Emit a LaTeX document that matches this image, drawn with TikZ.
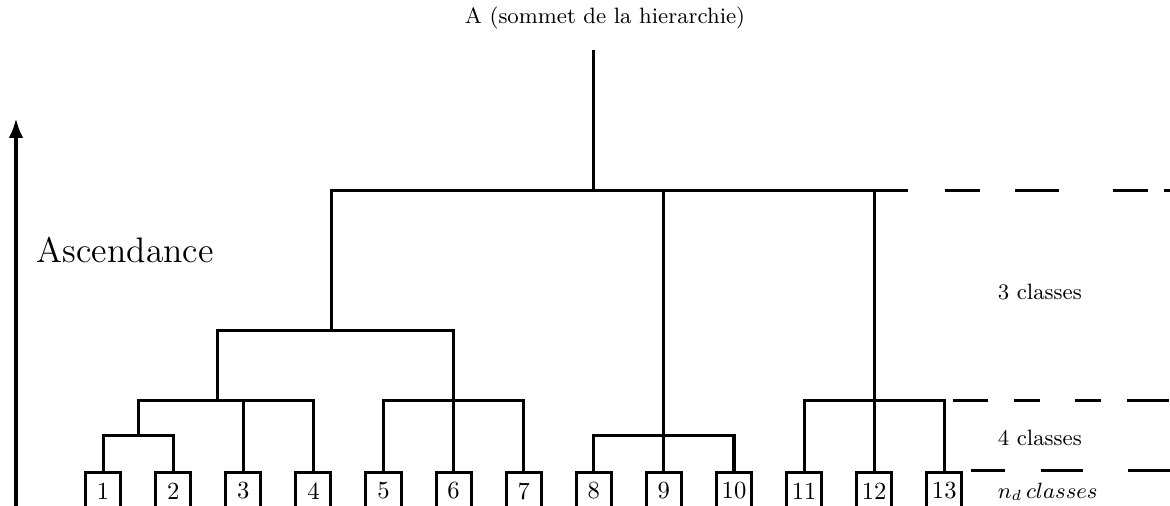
\documentclass[tikz,border=0pt]{standalone}
\usepackage{tikz}
\usetikzlibrary{positioning}
\usetikzlibrary{arrows.meta}
\usepackage{amssymb}
\usepackage{xcolor}

\tikzset{
  branch/.style={black, line width=0.43mm},
  leafbox/.style={draw, branch, minimum width=0.5cm, minimum height=0.53cm, inner sep=0pt, font=\normalsize},
  cutline/.style={black, line width=0.43mm}
}

\begin{document}
\begin{tikzpicture}
\useasboundingbox (-0.471,0) rectangle (16.22,7.218);

%%%%%%%%%% Leaves %%%%%%%%
{
\foreach \i in {1,...,13}
  \node[leafbox] (l\i) at (\i,0.213) {\i};
}
%%%%%%%%%%%%     Junctions   %%%%%%%%%%%%
{
\coordinate (n12) at (1.5,1);
\coordinate (n1234) at (2.63,1.5);
\coordinate (n567) at (6,1.5);
\coordinate (n1to7) at (4.26,2.5);
\coordinate (n8910) at (9,1);
\coordinate (n1113) at (12,1.5);
\coordinate (root) at (8,4.5);
\coordinate (top) at (8,6.5);
\coordinate (e3) at (12.48,4.5);
}
%%%%%%%%%%%%     Tree   %%%%%%%%%%%%
{
\draw[branch] (l1.north) |- (n12) -| (l2.north);
\draw[branch] (n12) |- (n1234) -| (l4.north);
\draw[branch] (l3.north) -- (l3.north |- n1234);
\draw[branch] (l5.north) |- (n567) -| (l7.north);
\draw[branch] (n1234) |- (n1to7) -| (l6.north);
\draw[branch] (l8.north) |- (n8910) -| (l10.north);
\draw[branch] (l11.north) |- (n1113) -| (l13.north);
\draw[branch] (n1to7) |- (e3);
\draw[branch] (l9.north) -- (l9.north |- e3);
\draw[branch] (l12.north) -- (l12.north |- e3);
\draw[branch] (root) -- (top);
}
%%%%%%%%%%%%     Cuts   %%%%%%%%%%%%
{
\coordinate (c3a) at (13.01,4.5);
\coordinate (c3b) at (16.3,4.5);
\coordinate (c4a) at (13.12,1.5);
\coordinate (c4b) at (16.3,1.5);
\coordinate (cna) at (13.38,0.5);
\coordinate (cnb) at (16.3,0.5);
\draw[cutline, dash pattern=on 0.5cm off 0.5cm on 0.63cm off 0.76cm on 0.5cm off 0.24cm on 0.5cm off 0.5cm] (c3a) -- (c3b);
\draw[cutline, dash pattern=on 0.5cm off 0.37cm on 0.37cm off 0.51cm on 0.37cm off 0.37cm on 0.6cm off 0.5cm] (c4a) -- (c4b);
\draw[cutline, dash pattern=on 0.49cm off 0.51cm on 0.6cm off 0.64cm on 0.7cm off 0.5cm] (cna) -- (cnb);
}
%%%%%%%%%%%%     Labels   %%%%%%%%%%%%
{
\node (title) at (8.16,6.96) [font=\small]{A (sommet de la hierarchie)};
\node[right] (cl3) at (13.64,3.05) [font=\small]{3 classes};
\node[right] (cl4) at (13.64,0.97) [font=\small]{4 classes};
\node[right] (cln) at (13.64,0.2) [font=\small]{$n_d\,classes$};
}
%%%%%%%%%%%%     Ascendance   %%%%%%%%%%%%
{
\coordinate (abot) at (-0.243,-0.1);
\coordinate (atop) at (-0.243,5.535);
\draw[line width=0.57mm, -{Latex[length=2.85mm,width=2.1mm]}] (abot) -- (atop);
\node[right] (asc) at (-0.07,3.65) [font=\Large]{Ascendance};
}
\end{tikzpicture}
\end{document}
